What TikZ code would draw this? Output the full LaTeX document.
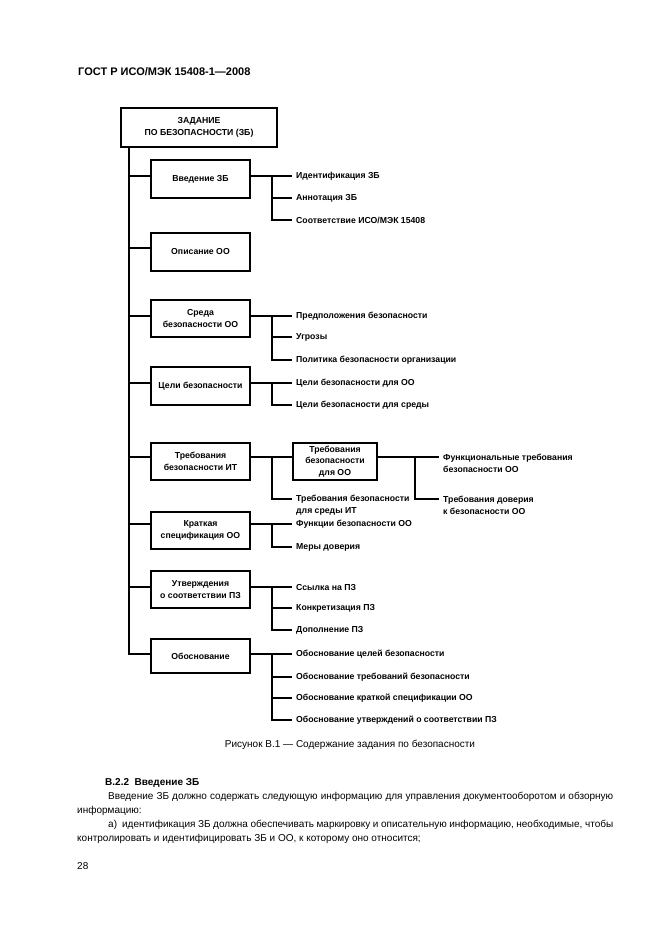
\documentclass[tikz,border=0pt]{standalone}
\usepackage{fontspec}
\setmainfont{Liberation Sans}
\newcommand\dfont{\fontsize{8.7}{11.8}\selectfont\bfseries}
\newcommand\bodyfont{\fontsize{10}{12}\selectfont}
\begin{document}
\begin{tikzpicture}[x=1pt,y=-1pt,
  bx/.style={draw, line width=2.4pt, align=center, font=\dfont, inner sep=0pt},
  lbl/.style={anchor=west, align=left, font=\dfont, inner xsep=4pt, inner ysep=0pt},
  ln/.style={line width=1.8pt},
  txt/.style={anchor=west, inner sep=0pt, font=\bodyfont}]
\fill[white] (0,0) rectangle (661,936);
\useasboundingbox (0,0) rectangle (661,936);

% header
\node[anchor=west, inner sep=0pt, font=\fontsize{11}{13}\selectfont\bfseries] (hdr) at (78,72) {ГОСТ Р ИСО/МЭК 15408-1—2008};

% boxes
\node[bx, minimum width=156, minimum height=39] (top) at (199,127.5) {ЗАДАНИЕ\\ПО БЕЗОПАСНОСТИ (ЗБ)};
\node[bx, minimum width=99, minimum height=38] (b1) at (200.5,179) {Введение ЗБ};
\node[bx, minimum width=99, minimum height=38] (b2) at (200.5,252) {Описание ОО};
\node[bx, minimum width=99, minimum height=37] (b3) at (200.5,318.5) {Среда\\безопасности ОО};
\node[bx, minimum width=99, minimum height=38] (b4) at (200.5,386) {Цели безопасности};
\node[bx, minimum width=99, minimum height=37] (b5) at (200.5,461.5) {Требования\\безопасности ИТ};
\node[bx, minimum width=84, minimum height=37] (b6) at (335,461.5) {Требования\\безопасности\\для ОО};
\node[bx, minimum width=99, minimum height=37] (b7) at (200.5,530.5) {Краткая\\спецификация ОО};
\node[bx, minimum width=99, minimum height=37] (b8) at (200.5,589.5) {Утверждения\\о соответствии ПЗ};
\node[bx, minimum width=99, minimum height=34] (b9) at (200.5,656) {Обоснование};

% labels
\node[lbl] (k11) at (292,176) {Идентификация ЗБ};
\node[lbl] (k12) at (292,198) {Аннотация ЗБ};
\node[lbl] (k13) at (292,220) {Соответствие ИСО/МЭК 15408};
\node[lbl] (k31) at (292,316) {Предположения безопасности};
\node[lbl] (k32) at (292,337) {Угрозы};
\node[lbl] (k33) at (292,360) {Политика безопасности организации};
\node[lbl] (k41) at (292,383) {Цели безопасности для ОО};
\node[lbl] (k42) at (292,405) {Цели безопасности для среды};
\node[lbl] (k51) at (292,505) {Требования безопасности\\для среды ИТ};
\node[lbl] (k61) at (439,463) {Функциональные требования\\безопасности ОО};
\node[lbl] (k62) at (439,505) {Требования доверия\\к безопасности ОО};
\node[lbl] (k71) at (292,524) {Функции безопасности ОО};
\node[lbl] (k72) at (292,547) {Меры доверия};
\node[lbl] (k81) at (292,587) {Ссылка на ПЗ};
\node[lbl] (k82) at (292,608) {Конкретизация ПЗ};
\node[lbl] (k83) at (292,630) {Дополнение ПЗ};
\node[lbl] (k91) at (292,654) {Обоснование целей безопасности};
\node[lbl] (k92) at (292,677) {Обоснование требований безопасности};
\node[lbl] (k93) at (292,698) {Обоснование краткой спецификации ОО};
\node[lbl] (k94) at (292,720) {Обоснование утверждений о соответствии ПЗ};

% junction coordinates
\coordinate (mb) at (129,654);
\coordinate (j1) at (129,176);
\coordinate (j2) at (129,248);
\coordinate (j3) at (129,316);
\coordinate (j4) at (129,383);
\coordinate (j5) at (129,457);
\coordinate (j7) at (129,524);
\coordinate (j8) at (129,587);
\coordinate (r1) at (272,176);
\coordinate (r3) at (272,316);
\coordinate (r4) at (272,383);
\coordinate (r5) at (272,457);
\coordinate (r5b) at (272,499);
\coordinate (r6) at (415,457);
\coordinate (r6b) at (415,499);
\coordinate (r7) at (272,524);
\coordinate (r8) at (272,587);
\coordinate (r9) at (272,654);

% main trunk
\draw[ln] (top.south -| mb) -- (mb) -- (mb -| b9.west);
\foreach \j/\b in {j1/b1,j2/b2,j3/b3,j4/b4,j5/b5,j7/b7,j8/b8}
  \draw[ln] (\j) -- (\j -| \b.west);

% branches
\draw[ln] (b1.east |- r1) -- (r1) -- (r1 |- k13) -- (k13.west);
\draw[ln] (r1) -- (k11.west);
\draw[ln] (r1 |- k12) -- (k12.west);

\draw[ln] (b3.east |- r3) -- (r3) -- (r3 |- k33) -- (k33.west);
\draw[ln] (r3) -- (k31.west);
\draw[ln] (r3 |- k32) -- (k32.west);

\draw[ln] (b4.east |- r4) -- (r4) -- (r4 |- k42) -- (k42.west);
\draw[ln] (r4) -- (k41.west);

\draw[ln] (b5.east |- r5) -- (b6.west |- r5);
\draw[ln] (r5) -- (r5b) -- (r5b -| k51.west);

\draw[ln] (b6.east |- r6) -- (r6) -- (r6b) -- (r6b -| k62.west);
\draw[ln] (r6) -- (r6 -| k61.west);

\draw[ln] (b7.east |- r7) -- (r7) -- (r7 |- k72) -- (k72.west);
\draw[ln] (r7) -- (k71.west);

\draw[ln] (b8.east |- r8) -- (r8) -- (r8 |- k83) -- (k83.west);
\draw[ln] (r8) -- (k81.west);
\draw[ln] (r8 |- k82) -- (k82.west);

\draw[ln] (b9.east |- r9) -- (r9) -- (r9 |- k94) -- (k94.west);
\draw[ln] (r9) -- (k91.west);
\draw[ln] (r9 |- k92) -- (k92.west);
\draw[ln] (r9 |- k93) -- (k93.west);

% caption
\node[inner sep=0pt, font=\fontsize{10}{12}\selectfont] (cap) at (350,745) {Рисунок В.1 — Содержание задания по безопасности};

% body text
\node[txt, font=\bodyfont\bfseries] (s1) at (105,783) {В.2.2\ \ Введение ЗБ};
\node[txt] (p1) at (108,797) {\makebox[505pt][s]{Введение ЗБ должно содержать следующую информацию для управления документооборотом и обзорную}};
\node[txt] (p2) at (77,811) {информацию:};
\node[txt] (p3) at (108,825) {\makebox[505pt][s]{а)\ \ идентификация ЗБ должна обеспечивать маркировку и описательную информацию, необходимые, чтобы}};
\node[txt] (p4) at (77,839) {контролировать и идентифицировать ЗБ и ОО, к которому оно относится;};
\node[txt] (pg) at (77,866) {28};
\end{tikzpicture}
\end{document}
